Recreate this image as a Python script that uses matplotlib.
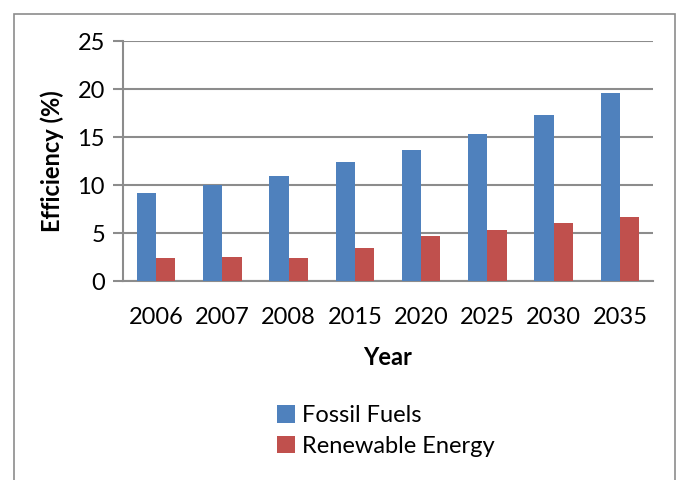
import matplotlib
matplotlib.use("Agg")
import matplotlib.pyplot as plt
from matplotlib.patches import Rectangle
import numpy as np

years = ["2006", "2007", "2008", "2015", "2020", "2025", "2030", "2035"]
fossil = [9.2, 10.05, 10.9, 12.4, 13.6, 15.3, 17.3, 19.55]
renewable = [2.35, 2.45, 2.35, 3.45, 4.7, 5.3, 6.0, 6.7]
yticks = [0, 5, 10, 15, 20, 25]

plt.rcParams['font.family'] = ['Lato', 'DejaVu Sans']

fig = plt.figure(figsize=(6.78, 4.8), dpi=100)
fig.patches.append(Rectangle((14/678, -0.1), (675-14)/678, 1.1 - 14/480,
                             transform=fig.transFigure, fill=False,
                             edgecolor='#8c8c8c', lw=1.2))
ax = fig.add_axes([123/678, 1 - 281/480, (653-123)/678, 240/480])

x = np.arange(len(years))
w = 0.29
ax.bar(x - w/2, fossil, w, color='#4F81BD', label='Fossil Fuels', zorder=3)
ax.bar(x + w/2, renewable, w, color='#C0504D', label='Renewable Energy', zorder=3)

ax.set_xlim(-0.5, len(years) - 0.5)
ax.set_ylim(0, 25)
ax.set_yticks(yticks)
ax.set_xticks(x)
ax.set_xticklabels(years)
ax.yaxis.grid(True, color='#8c8c8c', lw=1.5, zorder=0)
ax.set_axisbelow(True)
for s in ['top', 'right']:
    ax.spines[s].set_visible(False)
for s in ['left', 'bottom']:
    ax.spines[s].set_color('#8c8c8c')
    ax.spines[s].set_linewidth(1.5)
ax.tick_params(axis='y', length=7, width=1.5, color='#8c8c8c', labelsize=17, pad=6)
ax.tick_params(axis='x', length=0, labelsize=17, pad=19)

ax.set_ylabel('Efficiency (%)', fontsize=17, fontweight='bold', labelpad=10)
ax.set_xlabel('Year', fontsize=17, fontweight='bold', labelpad=13)

fig.legend(loc='center', bbox_to_anchor=(386/678, 1 - 431/480), frameon=False,
           fontsize=17, handlelength=0.75, handleheight=0.75, handletextpad=0.3,
           labelspacing=0.4)

fig.savefig('out.png', dpi=100)
